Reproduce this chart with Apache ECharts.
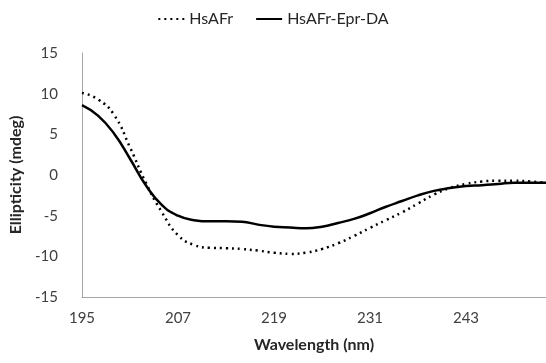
<!DOCTYPE html>
<html>
<head>
<meta charset="utf-8">
<script src="https://cdn.jsdelivr.net/npm/echarts@6/dist/echarts.min.js"></script>
<style>
  html, body { margin: 0; padding: 0; background: #fff; }
  #chart { width: 546px; height: 363px; }
</style>
</head>
<body>
<div id="chart"></div>
<script>
// wavelength (nm), every 2 nm
const wavelength = [195, 197, 199, 201, 203, 205, 207, 209, 211, 213, 215, 217, 219, 221, 223,
  225, 227, 229, 231, 233, 235, 237, 239, 241, 243, 245, 247, 249, 251, 253];

const hsAFr = [10.1, 9.3, 7.4, 3.4, -1.0, -4.6, -7.4, -8.6, -8.95, -9.0, -9.1, -9.3, -9.55, -9.7, -9.55,
  -9.1, -8.4, -7.5, -6.5, -5.55, -4.6, -3.5, -2.4, -1.6, -1.1, -0.8, -0.7, -0.7, -0.8, -0.95];

const hsAFrEprDA = [8.6, 7.3, 5.1, 2.0, -1.3, -3.7, -5.0, -5.55, -5.7, -5.7, -5.75, -6.1, -6.35, -6.45, -6.55,
  -6.35, -5.9, -5.4, -4.7, -3.9, -3.2, -2.5, -1.95, -1.6, -1.35, -1.25, -1.1, -0.95, -0.95, -0.95];

const pairs = (ys) => wavelength.map((x, i) => [x, ys[i]]);

const font = 'Lato, "Open Sans", sans-serif';

const chart = echarts.init(document.getElementById('chart'), null, { renderer: 'canvas' });

chart.setOption({
  animation: false,
  textStyle: { fontFamily: font },
  legend: {
    top: 6,
    left: 'center',
    itemWidth: 26,
    itemHeight: 14,
    itemGap: 22,
    itemStyle: { opacity: 0 }, // hide the circle marker, keep the line sample
    textStyle: { fontSize: 16, color: '#262626', fontFamily: font },
    data: ['HsAFr', 'HsAFr-Epr-DA']
  },
  grid: { left: 82, right: 0, top: 53, bottom: 66 },
  xAxis: {
    type: 'value',
    min: 195,
    max: 253,
    interval: 12,
    name: 'Wavelength (nm)',
    nameLocation: 'middle',
    nameGap: 40,
    nameTextStyle: { fontSize: 16, fontWeight: 'bold', color: '#262626', fontFamily: font },
    axisLine: { onZero: false, lineStyle: { color: '#a6a6a6', width: 1 } },
    axisTick: { show: false },
    splitLine: { show: false },
    axisLabel: { fontSize: 15, color: '#404040', margin: 14, showMaxLabel: false }
  },
  yAxis: {
    type: 'value',
    min: -15,
    max: 15,
    interval: 5,
    name: 'Ellipticity (mdeg)',
    nameLocation: 'middle',
    nameGap: 56,
    nameTextStyle: { fontSize: 16, fontWeight: 'bold', color: '#262626', fontFamily: font },
    axisLine: { show: true, onZero: false, lineStyle: { color: '#a6a6a6', width: 1 } },
    axisTick: { show: false },
    splitLine: { show: false },
    axisLabel: { fontSize: 15, color: '#404040', margin: 24 }
  },
  series: [
    {
      name: 'HsAFr',
      type: 'line',
      smooth: true,
      symbol: 'none',
      data: pairs(hsAFr),
      lineStyle: { color: '#000', width: 2.5, type: [2, 4] },
      itemStyle: { color: '#000' }
    },
    {
      name: 'HsAFr-Epr-DA',
      type: 'line',
      smooth: true,
      symbol: 'none',
      data: pairs(hsAFrEprDA),
      lineStyle: { color: '#000', width: 2.5 },
      itemStyle: { color: '#000' }
    }
  ]
});
</script>
</body>
</html>
